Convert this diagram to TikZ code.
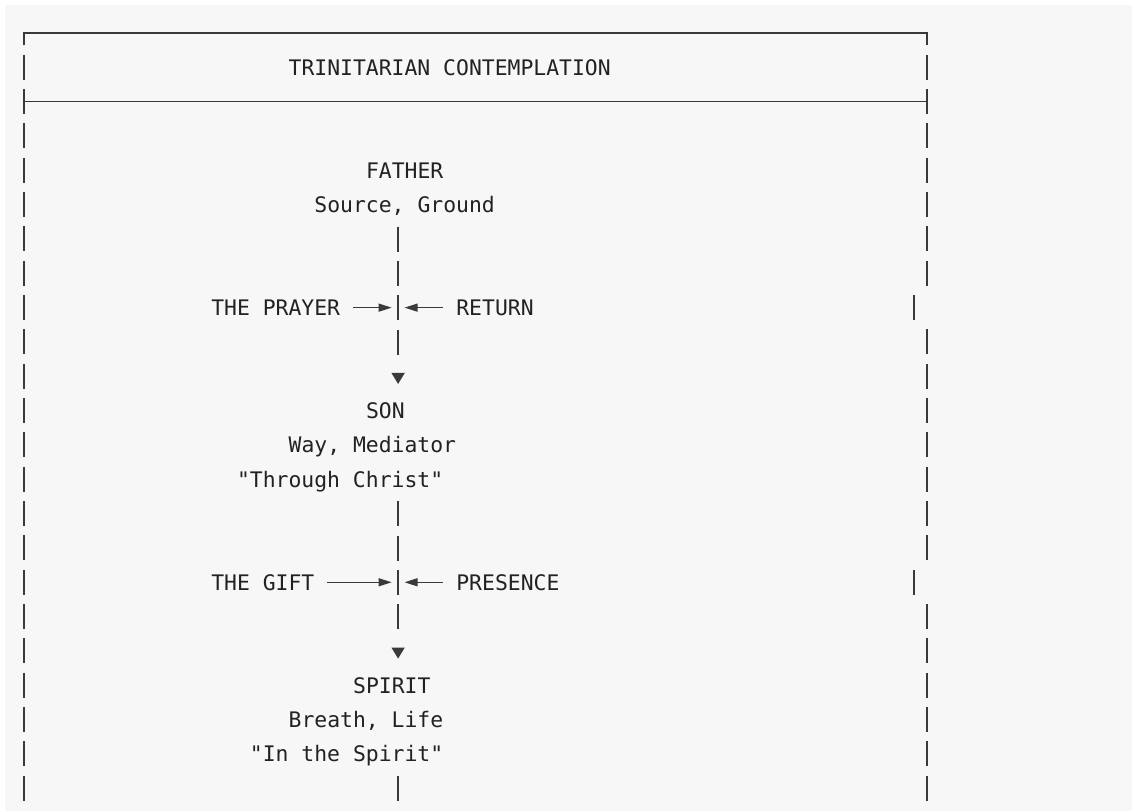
\documentclass[tikz,border=0pt]{standalone}
\usepackage{fontspec}
\setmonofont{DejaVu Sans Mono}
\usetikzlibrary{arrows.meta}

\definecolor{ink}{HTML}{222222}
\definecolor{rule}{HTML}{3A3A3A}
\definecolor{paper}{HTML}{F7F7F7}

\begin{document}
\begin{tikzpicture}[x=12.9pt, y=-34.33pt,
  txt/.style = {anchor=west, inner sep=0pt, text=ink, text height=15.6pt, text depth=0pt, minimum height=34.33pt, font=\ttfamily\fontsize{21.4pt}{25pt}\selectfont},
  frame/.style = {draw=rule, line width=1.3pt},
  side/.style = {frame, dash pattern=on 25pt off 9.33pt, dash phase=29.67pt},
  flow/.style = {frame, dash pattern=on 0pt off 4.67pt on 25pt off 9.33pt on 25pt off 9.33pt on 25pt off 9.33pt on 25pt off 60pt, -{Triangle[width=13pt,length=11pt]}, shorten >=9.3pt},
  feed/.style = {frame, -{Triangle[width=8pt,length=13pt]}, shorten <=12.9pt, shorten >=6.45pt}]

\useasboundingbox (-24pt,33pt) rectangle (1108pt,-778pt);
\fill[white] (-24pt,33pt) rectangle (1108pt,-778pt);
\fill[paper] (-19pt,28pt) rectangle (1108pt,-778pt);

% box
\draw[frame] (0,0.364) -- (0,0) -- (70,0) -- (70,0.364);
\draw[frame] (0,2) -- (70,2);
\draw[side] (0,0.5) -- (0,22.5);
\draw[side] (70,0.5) -- (70,7.5);
\draw[side] (69,7.5) -- (69,8.5);
\draw[side] (70,8.5) -- (70,15.5);
\draw[side] (69,15.5) -- (69,16.5);
\draw[side] (70,16.5) -- (70,22.5);

\node[txt] (title) at (20.5,1) {TRINITARIAN CONTEMPLATION};

\coordinate (axis) at (29,0);
\coordinate (exit) at (29,22.5);

\node[txt] (father) at (26.5,4) {FATHER};
\node[txt] (source) at (22.5,5) {Source, Ground};
\node[txt] (prayer) at (14.5,8) {THE PRAYER};
\node[txt] (return) at (33.5,8) {RETURN};

\node[txt] (son) at (26.5,11) {SON};
\node[txt] (way) at (20.5,12) {Way, Mediator};
\node[txt] (through) at (16.5,13) {"Through Christ"};
\node[txt] (gift) at (14.5,16) {THE GIFT};
\node[txt] (presence) at (33.5,16) {PRESENCE};

\node[txt] (spirit) at (25.5,19) {SPIRIT};
\node[txt] (breath) at (20.5,20) {Breath, Life};
\node[txt] (inspirit) at (17.5,21) {"In the Spirit"};

\path (source.south -| axis) edge[flow] (son.north -| axis);
\path (through.south -| axis) edge[flow] (spirit.north -| axis);
\path (inspirit.south -| axis) edge[side] (exit);

\path (prayer.east) edge[feed] (prayer.east -| axis);
\path (return.west) edge[feed] (return.west -| axis);
\path (gift.east) edge[feed] (gift.east -| axis);
\path (presence.west) edge[feed] (presence.west -| axis);

\end{tikzpicture}
\end{document}
